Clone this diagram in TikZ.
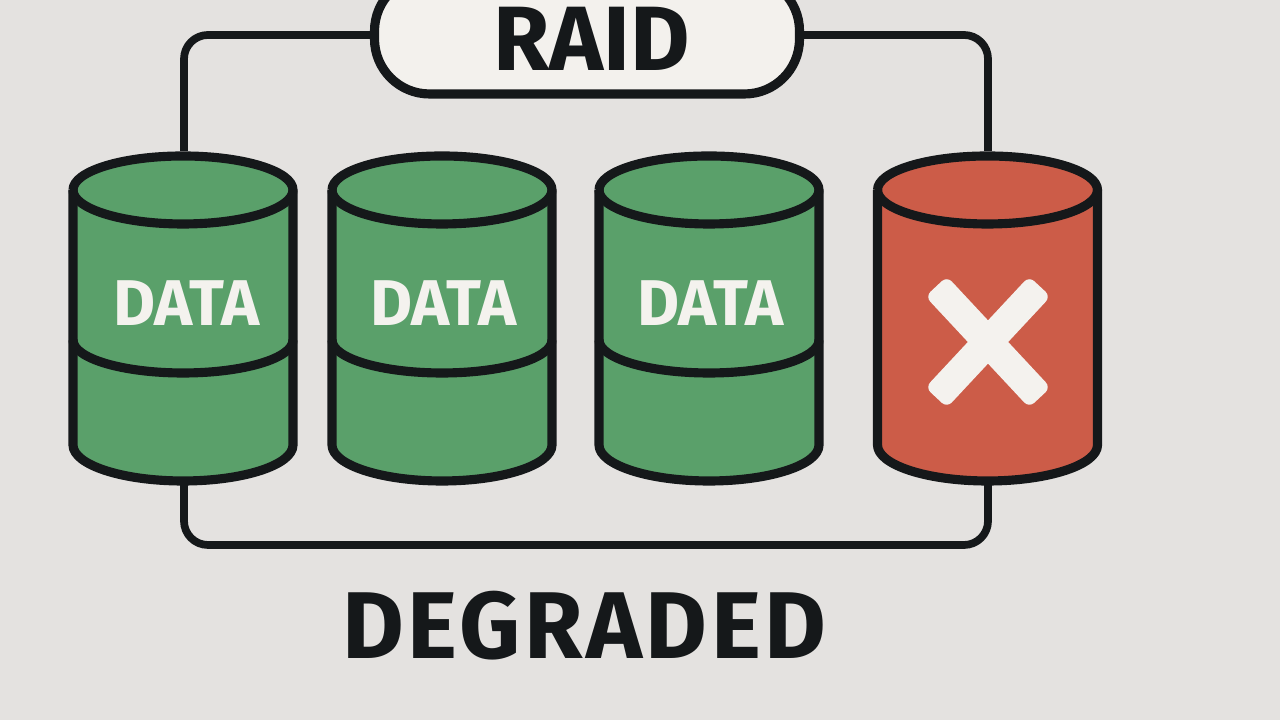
\documentclass[tikz,border=0pt]{standalone}
\usepackage{fontspec}
\setmainfont{Fira Sans}
\usepackage{tikz}
\definecolor{paper}{HTML}{E4E2E0}
\definecolor{ink}{HTML}{15181A}
\definecolor{chalk}{HTML}{F4F2EE}
\definecolor{drivegreen}{HTML}{5AA06A}
\definecolor{drivered}{HTML}{CC5C48}
\tikzstyle{drivebox}=[rectangle, inner sep=0, outer sep=0, minimum width=2.28cm, minimum height=3.34cm]
\tikzstyle{shell}=[draw=ink, line width=2.6pt, line join=round]
\tikzstyle{link}=[draw=ink, line width=2.2pt, rounded corners=.24cm]
\tikzstyle{pill}=[rectangle, draw=ink, line width=2.6pt, fill=chalk!96!paper, rounded corners=.55cm, minimum width=4.25cm, minimum height=1.18cm]
\tikzstyle{drivetext}=[text=chalk, font=\bfseries\fontsize{18.4}{18.4}\selectfont, inner sep=0]
\tikzstyle{crossbar}=[rectangle, fill=chalk, rounded corners=.07cm, inner sep=0, minimum width=1.52cm, minimum height=.295cm]
\begin{document}
\begin{tikzpicture}
	\clip (0,0) rectangle (12.8,7.2);
	\fill[paper] (0,0) rectangle (12.8,7.2);

	\foreach \x/\n in {1.84/1, 4.42/2, 7.09/3, 9.88/4} {
		\node[drivebox] (d\n) at (\x,4.02) {};
	}
	\node[pill] (raid) at (5.87,6.85) {};
	\node[font=\bfseries\fontsize{26}{26}\selectfont, text=ink, inner sep=0] (raidtext) at (5.915,6.815) {RAID};

	\draw[link] (d1.north) |- (raid.west);
	\draw[link] (raid.east) -| (d4.north);
	\draw[link] (d1.south) -- ++(0,-.6) -| (d4.south);

	\foreach \x/\c in {1.83/drivegreen, 4.42/drivegreen, 7.09/drivegreen, 9.875/drivered} {
		\draw[shell, fill=\c] (\x-1.10,5.30) -- (\x-1.10,2.75) arc[start angle=180, end angle=360, x radius=1.10, y radius=.36]
			-- (\x+1.10,5.30) arc[start angle=0, end angle=180, x radius=1.10, y radius=.34];
		\draw[shell] (\x-1.10,5.30) arc[start angle=180, end angle=360, x radius=1.10, y radius=.34];
	}
	\foreach \x in {1.83, 4.42, 7.09} {
		\draw[shell] (\x-1.10,3.80) arc[start angle=180, end angle=360, x radius=1.10, y radius=.33];
	}
	\node[drivetext] (data1) at (1.865,4.17) {DATA};
	\node[drivetext] (data2) at (4.435,4.17) {DATA};
	\node[drivetext] (data3) at (7.105,4.17) {DATA};

	\node[crossbar, rotate=47] (crossa) at (9.88,3.78) {};
	\node[crossbar, rotate=-47] (crossb) at (9.88,3.78) {};

	\node[font=\bfseries\fontsize{27}{27}\selectfont\addfontfeatures{LetterSpace=3.6}, text=ink, inner sep=0] (state) at (5.845,.94) {DEGRADED};
\end{tikzpicture}
\end{document}
